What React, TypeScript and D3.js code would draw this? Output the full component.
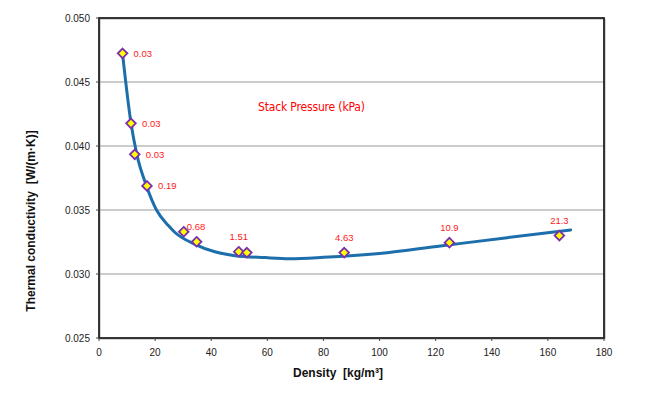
import React from 'react';
import * as d3 from 'd3';

// measured points (density, conductivity) and stack pressure labels
const densities = [8.4, 11.4, 12.75, 17.1, 30.2, 34.8, 49.8, 52.7, 87.4, 124.9, 164.1];
const conductivities = [0.04724, 0.04177, 0.03935, 0.03688, 0.0333, 0.03252, 0.03174, 0.03167, 0.03167, 0.03245, 0.033];
const pressureLabels = ['0.03', '0.03', '0.03', '0.19', '0.68', '', '1.51', '', '4.63', '10.9', '21.3'];
// label placement: 'right' = beside the marker, 'above' = centred over it
const labelSide = ['right', 'right', 'right', 'right', 'right', '', 'above', '', 'above', 'above', 'above'];

// fitted trend curve
const curveX = [8.4, 11.4, 13.46, 16.93, 20.5, 24.64, 27, 34.2, 41.3, 48.5, 59.2, 68, 80, 100, 121.7, 145.5, 168.1];
const curveY = [0.0472, 0.0418, 0.03937, 0.03688, 0.035, 0.0338, 0.03326, 0.03232, 0.03174, 0.03143, 0.03128, 0.0312, 0.0313, 0.0316, 0.03219, 0.03284, 0.03344];

const xTicks = [0, 20, 40, 60, 80, 100, 120, 140, 160, 180];
const yTicks = [0.025, 0.03, 0.035, 0.04, 0.045, 0.05];

const W = 649;
const H = 399;
const M = { left: 99, right: 604, top: 18, bottom: 338 };

export default function App() {
  const x = d3.scaleLinear().domain([0, 180]).range([M.left, M.right]);
  const y = d3.scaleLinear().domain([0.025, 0.05]).range([M.bottom, M.top]);

  const line = d3
    .line<number>()
    .x((_, i) => x(curveX[i]))
    .y((d) => y(d))
    .curve(d3.curveMonotoneX);

  const font = 'Liberation Sans, Arial, sans-serif';

  return (
    <svg
      width={W}
      height={H}
      style={{ position: 'absolute', left: 0, top: 0, background: '#fff' }}
      fontFamily={font}
    >
      {/* gridlines */}
      {yTicks.slice(1, -1).map((t) => (
        <line key={t} x1={M.left} x2={M.right} y1={y(t)} y2={y(t)} stroke="#999" strokeWidth={1} />
      ))}

      {/* plot frame */}
      <rect
        x={M.left + 1}
        y={M.top + 1}
        width={M.right - M.left}
        height={M.bottom - M.top}
        fill="none"
        stroke="#aaa"
        strokeWidth={1}
      />
      <rect
        x={M.left}
        y={M.top}
        width={M.right - M.left}
        height={M.bottom - M.top}
        fill="none"
        stroke="#222"
        strokeWidth={1.8}
      />

      {/* y ticks */}
      {yTicks.map((t) => (
        <g key={t}>
          <line x1={M.left - 3} x2={M.left} y1={y(t)} y2={y(t)} stroke="#444" />
          <text x={M.left - 9} y={y(t)} dy="0.35em" textAnchor="end" fontSize={10} fill="#222">
            {t.toFixed(3)}
          </text>
        </g>
      ))}

      {/* x ticks */}
      {xTicks.map((t) => (
        <g key={t}>
          <line x1={x(t)} x2={x(t)} y1={M.bottom} y2={M.bottom + 3} stroke="#444" />
          <text x={x(t)} y={M.bottom + 14} dy="0.35em" textAnchor="middle" fontSize={10} fill="#222">
            {t}
          </text>
        </g>
      ))}

      {/* trend curve */}
      <path d={line(curveY) ?? ''} fill="none" stroke="#1d6fac" strokeWidth={3} strokeLinecap="round" />

      {/* markers */}
      {densities.map((d, i) => {
        const cx = x(d);
        const cy = y(conductivities[i]);
        const r = 4.8;
        return (
          <path
            key={i}
            d={`M${cx},${cy - r}L${cx + r},${cy}L${cx},${cy + r}L${cx - r},${cy}Z`}
            fill="#ffff00"
            stroke="#7a2fb0"
            strokeWidth={1.8}
          />
        );
      })}

      {/* pressure labels */}
      {densities.map((d, i) => {
        if (!pressureLabels[i]) return null;
        const cx = x(d);
        const cy = y(conductivities[i]);
        const above = labelSide[i] === 'above';
        return (
          <text
            key={i}
            x={above ? cx : cx + (i === 4 ? 3 : 11)}
            y={above ? cy - 15 : i === 4 ? cy - 5 : cy}
            dy="0.35em"
            textAnchor={above ? 'middle' : 'start'}
            fontSize={9.5}
            fill="#ff2020"
          >
            {pressureLabels[i]}
          </text>
        );
      })}

      <text x={258} y={107} dy="0.35em" fontSize={12} fill="#ff0000" fontFamily="DejaVu Sans Condensed, DejaVu Sans, sans-serif" textLength={107}>
        Stack Pressure (kPa)
      </text>

      {/* axis titles */}
      <text x={338} y={373} dy="0.35em" textAnchor="middle" fontSize={12} fontWeight="bold" fill="#111">
        Density{'\u00a0\u00a0'}[kg/m³]
      </text>
      <text
        transform={`translate(31,221) rotate(-90)`}
        dy="0.35em"
        textAnchor="middle"
        fontSize={12}
        fontWeight="bold"
        fill="#111"
      >
        Thermal conductivity{'\u00a0\u00a0'}[W/(m·K)]
      </text>
    </svg>
  );
}
